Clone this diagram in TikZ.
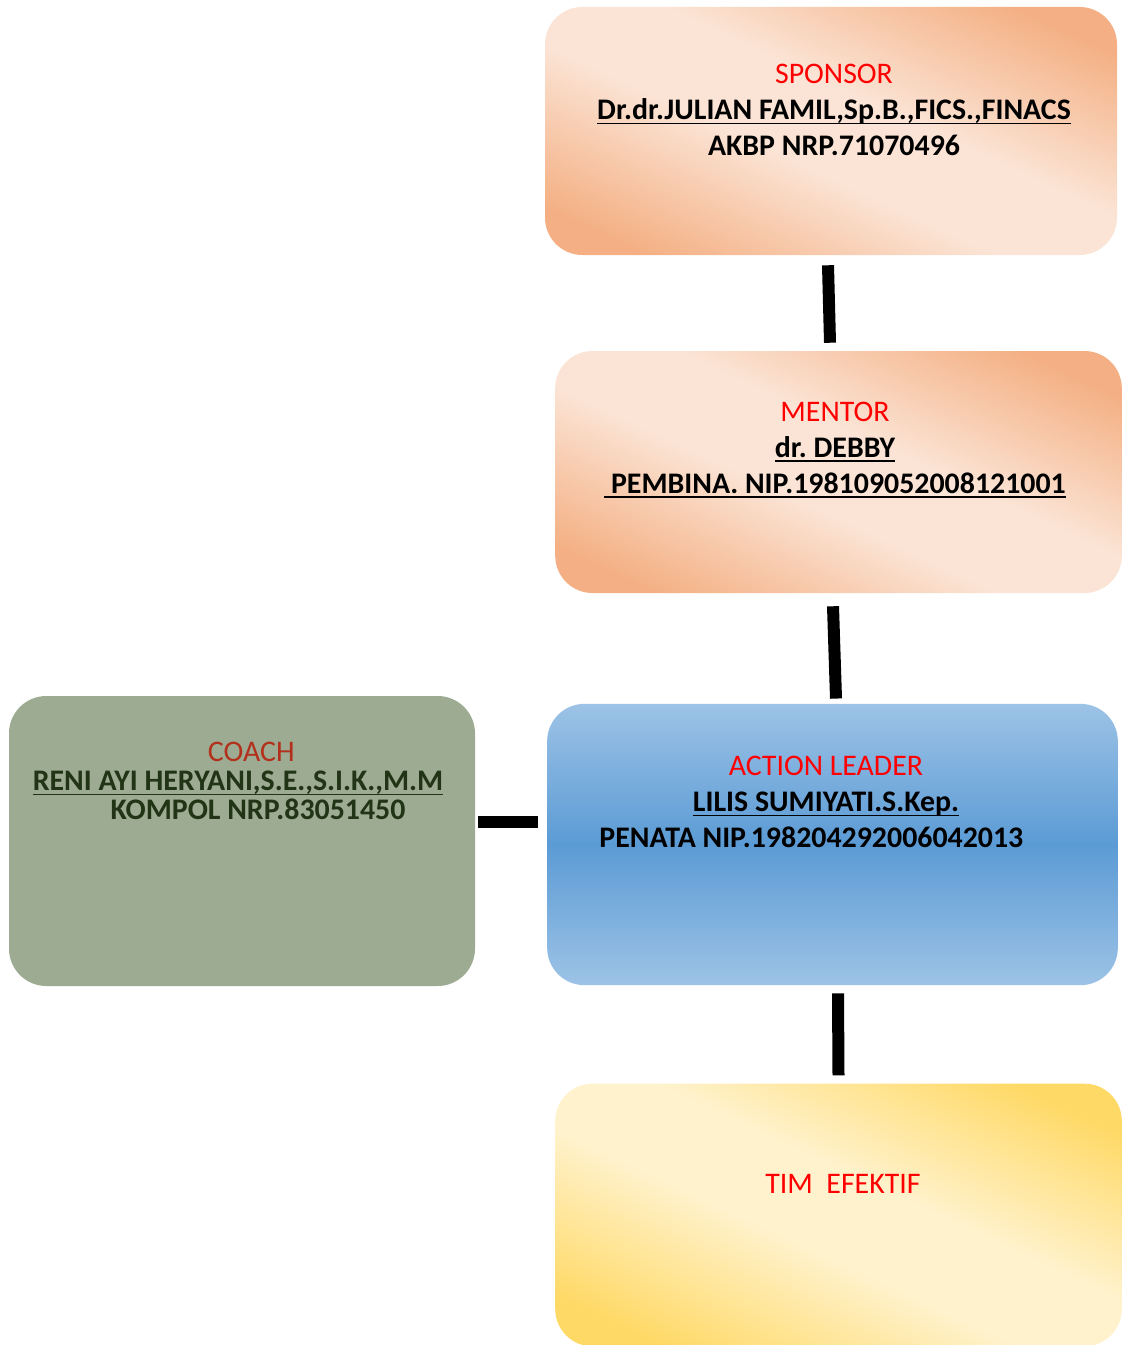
\documentclass[tikz,border=0pt]{standalone}
\usepackage{fontspec}
\setmainfont{Carlito}
\frenchspacing
\definecolor{orgdark}{RGB}{244,176,132}
\definecolor{orglight}{RGB}{251,228,213}
\definecolor{bluedark}{RGB}{91,155,213}
\definecolor{bluelight}{RGB}{157,195,230}
\definecolor{yeldark}{RGB}{255,217,102}
\definecolor{yellight}{RGB}{255,242,204}
\definecolor{coachfill}{RGB}{156,171,145}
\definecolor{coachtext}{RGB}{34,52,22}
\definecolor{coachred}{RGB}{178,48,28}
\pgfdeclareverticalshading{orgshade}{100bp}{color(0bp)=(orgdark); color(23bp)=(orgdark);
    color(44bp)=(orglight); color(56bp)=(orglight); color(77bp)=(orgdark); color(100bp)=(orgdark)}
\pgfdeclareverticalshading{yelshade}{100bp}{color(0bp)=(yeldark); color(23bp)=(yeldark);
    color(44bp)=(yellight); color(56bp)=(yellight); color(77bp)=(yeldark); color(100bp)=(yeldark)}
\newcommand{\undl}[1]{\setbox0\hbox{#1}\rlap{\vrule width\wd0 height -2.2pt depth 3.6pt}\box0}
\begin{document}
\begin{tikzpicture}[x=0.75pt,y=-0.75pt,
    box/.style={rounded corners=28pt, inner sep=0pt},
    link/.style={line width=9pt, black},
    txt/.style={align=center, font=\fontsize{22.4}{27}\selectfont}]
    \useasboundingbox (0,0) rectangle (1122,1345);

    % Boxes
    \node[box, shading=orgshade, shading angle=-25,
        minimum width=429pt, minimum height=186pt] (sponsor) at (831,131) {};
    \node[box, shading=orgshade, shading angle=-25,
        minimum width=425pt, minimum height=181.5pt] (mentor) at (838.5,472) {};
    \node[box, fill=coachfill, minimum width=349.5pt, minimum height=217.5pt] (coach) at (242,841) {};
    \node[box, top color=bluelight, bottom color=bluelight, middle color=bluedark,
        minimum width=428pt, minimum height=211pt] (leader) at (832.5,844.5) {};
    \node[box, shading=yelshade, shading angle=-25,
        minimum width=425pt, minimum height=197pt] (tim) at (838.5,1215) {};

    % Texts
    \node[txt] (sponsortxt) at (834,110) {\textcolor{red}{SPONSOR}\\
        \textbf{\undl{Dr.dr.JULIAN FAMIL,Sp.B.,FICS.,FINACS}}\\
        \textbf{AKBP NRP.71070496}};
    \node[txt] (mentortxt) at (835,450) {\textcolor{red}{MENTOR}\\
        \textbf{\undl{dr. DEBBY}}\\
        \textbf{\undl{~PEMBINA. NIP.198109052008121001}}};
    \node[txt, font=\fontsize{22.4}{22}\selectfont, text=coachtext] (coachtxt) at (238,781) {\hspace*{20pt}\textcolor{coachred}{COACH}\\
        \textbf{\undl{RENI AYI HERYANI,S.E.,S.I.K.,M.M}}\\
        \hspace*{30pt}\textbf{KOMPOL NRP.83051450}};
    \node[txt] (leadertxt) at (826,802) {\textcolor{red}{ACTION LEADER}\\
        \textbf{\undl{LILIS SUMIYATI.S.Kep.}}\\
        \textbf{PENATA NIP.198204292006042013}\hspace*{22pt}};
    \node[txt] (timtxt) at (843,1184) {\textcolor{red}{TIM~~EFEKTIF}};

    % Connectors
    \draw[link] ([shift={(-3,10)}]sponsor.south) -- ([shift={(-8.5,-8)}]mentor.north);
    \draw[link] ([shift={(-5.5,13)}]mentor.south) -- ([shift={(3.5,-5)}]leader.north);
    \draw[link] ([shift={(5.5,8)}]leader.south) -- ([shift={(0,-8)}]tim.north);
    \draw[link] ([shift={(3,-19)}]coach.east) -- ([shift={(-9,-22.5)}]leader.west);
\end{tikzpicture}
\end{document}
